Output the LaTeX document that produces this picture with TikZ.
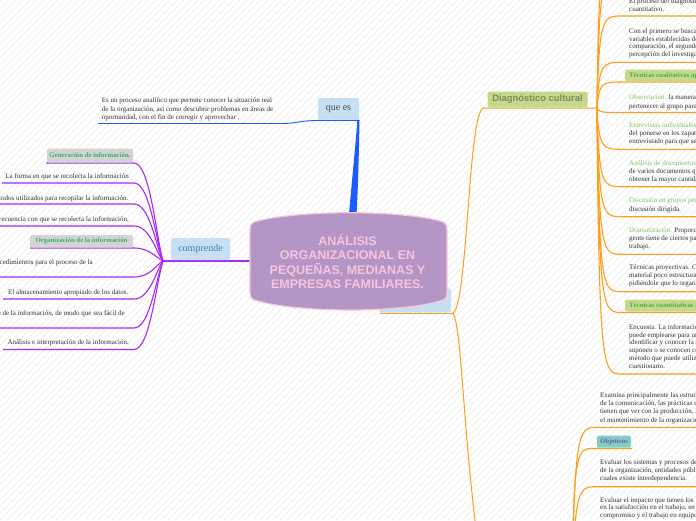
\documentclass[tikz,border=0pt]{standalone}
\usepackage{fontspec}
\setmainfont{Liberation Serif}
\newfontfamily\sansfam{Liberation Sans}
\usetikzlibrary{calc}
\definecolor{txt}{HTML}{333333}
\definecolor{orng}{HTML}{FF9E1B}
\definecolor{purp}{HTML}{A52AF5}
\definecolor{blu}{HTML}{1D5BFF}
\definecolor{lblue}{HTML}{C6DFF2}
\definecolor{cpurp}{HTML}{B395C6}
\definecolor{cpink}{HTML}{F7C5DA}
\definecolor{gbox}{HTML}{C5D98C}
\definecolor{gtxt}{HTML}{4DB04A}
\definecolor{lgtxt}{HTML}{82C35E}
\definecolor{greyb}{HTML}{D4D4D4}
\definecolor{ggreen}{HTML}{3CAD6E}
\definecolor{tealb}{HTML}{80CFC3}
\definecolor{opurp}{HTML}{7B55A8}
\definecolor{stripe}{HTML}{EEEEEE}
\definecolor{dctxt}{HTML}{7E8C55}
\definecolor{comptxt}{HTML}{3D7EC0}
\newcommand\G[1]{\textcolor{lgtxt}{#1}}
\tikzset{
  body/.style={font=\fontsize{7}{8}\selectfont, text=txt, inner sep=0pt},
  lft/.style={body, anchor=base east},
  rgt/.style={body, anchor=base west},
  oline/.style={draw=orng, line width=1.1pt},
  pline/.style={draw=purp, line width=1.1pt},
  bline/.style={draw=blu, line width=0.9pt},
  greyboxst/.style={fill=greyb, rounded corners=1.5pt, inner sep=0pt, font=\fontsize{6.8}{8}\selectfont\bfseries, text=ggreen},
  greenboxst/.style={fill=gbox, rounded corners=1.5pt, inner xsep=4pt, inner ysep=0pt, minimum height=12pt, anchor=west, font=\fontsize{6.8}{8}\selectfont\bfseries, text=gtxt},
  tealboxst/.style={fill=tealb, rounded corners=1.5pt, inner sep=0pt, font=\fontsize{6.8}{8}\selectfont\bfseries, text=opurp},
  blueboxst/.style={fill=lblue, rounded corners=1.5pt, inner sep=0pt},
}
\newcommand\pbr[3]{\coordinate (#1) at (134,#2);
  \draw[pline] (jl) .. controls (156,{261+0.25*(#2-261)}) and (150,#2) .. (#1) -- (#3,#2);}
\newcommand\obr[2]{\coordinate (#1) at (622,#2);
  \draw[oline] (j1) .. controls (599,#2) and (603,#2) .. (#1) -- (700,#2);}
\newcommand\bbr[2]{\coordinate (#1) at (597,#2);
  \draw[oline] (j3) .. controls (574,#2) and (579,#2) .. (#1) -- (700,#2);}
\begin{document}
\begin{tikzpicture}[x=1pt,y=-1pt]
\path[use as bounding box] (0,0) rectangle (696,520);
\clip (0,0) rectangle (696,520);
\fill[white] (0,0) rectangle (696,520);
\foreach \i in {-525,-518,...,700} \draw[stripe, line width=0.7pt] (\i,520) -- ++(520,-520);

% ---------- que es ----------
\node[blueboxst, minimum width=41pt, minimum height=22pt, font=\fontsize{10}{12}\selectfont, text=black!70] (quees) at (338.5,109) {que es};
\coordinate (qbl) at (318,120.5);
\coordinate (qbr) at (359.5,120.5);
\coordinate (qtxt) at (98,123.5);
\draw[bline] (qtxt) -- (283,123.5) .. controls (296,123.5) and (300,120.5) .. (qbl) -- (qbr);
\fill[blu] (349,214) .. controls (352,180) and (356,140) .. (357.3,120.5) -- (qbr) .. controls (359,150) and (358,190) .. (356.5,214) -- cycle;
\node[rgt] (q1) at (101.7,102.7) {Es un proceso analítico que permite conocer la situación real};
\node[rgt] (q2) at (101.7,111) {de la organización, así como descubrir problemas en áreas de};
\node[rgt] (q3) at (101.7,119.3) {oportunidad, con el fin de corregir y aprovechar .};

% ---------- comprende (purple) ----------
\coordinate (jl) at (163,261);
\coordinate (cl) at (251,261);
\draw[pline] (jl) -- (cl);
\node[blueboxst, minimum width=59pt, minimum height=22pt, font=\fontsize{10}{12}\selectfont, text=comptxt] (comp) at (200.5,249) {comprende};
\pbr{e1}{163}{46}
\pbr{e2}{183}{2}
\pbr{e3}{204}{-5}
\pbr{e4}{226}{-5}
\pbr{e5}{248}{30}
\pbr{e6}{277}{-5}
\pbr{e7}{299}{3}
\pbr{e8}{328}{-5}
\pbr{e9}{349.5}{3}
\node[greyboxst, minimum width=86pt, minimum height=14pt] (gen) at (90,155.5) {Generación de información.};
\node[greyboxst, minimum width=103pt, minimum height=12.5pt] (org) at (81.5,241.3) {Organización de la información};
\node[lft] (l2) at (129,178) {La forma en que se recolecta la información};
\node[lft] (l3) at (128.5,200) {Métodos utilizados para recopilar la información.};
\node[lft] (l4) at (129,221.3) {Frecuencia con que se recolecta la información,};
\node[lft] (l6) at (93,264.3) {Establecimiento de los procedimientos para el proceso de la};
\node[lft] (l7) at (128.5,294.3) {El almacenamiento apropiado de los datos.};
\node[lft] (l8) at (125,315.3) {Ordenamiento de la información, de modo que sea fácil de};
\node[lft] (l9) at (129,344.3) {Análisis e interpretación de la información.};

% ---------- orange tree ----------
\coordinate (j0) at (453,313);
\coordinate (j1) at (597,108);
\coordinate (j3) at (572,600);
\coordinate (hb) at (380,313);
\coordinate (dl) at (484,108);
\coordinate (down) at (478,545);
\node[blueboxst, minimum width=72pt, minimum height=24pt] (hid) at (415,300.5) {};
\draw[oline, line width=1pt] (hb) -- (j0);
\draw[oline, line width=1pt] (j0) .. controls (468,305) and (468,108) .. (dl) -- (j1);
\draw[oline, line width=1pt] (j0) .. controls (462,330) and (462,420) .. (down);
\obr{r00}{-60}
\obr{r0}{-25}
\obr{r1}{16}
\obr{r2}{62.3}
\obr{r3}{82}
\obr{r4}{112.5}
\obr{r5}{149.3}
\obr{r6}{186.7}
\obr{r7}{216.7}
\obr{r8}{254.3}
\obr{r9}{291.7}
\obr{r10}{312.5}
\obr{r11}{374}
\node[fill=gbox, rounded corners=1.5pt, minimum width=100pt, minimum height=16pt, font=\sansfam\bfseries\fontsize{9.4}{11}\selectfont, text=dctxt, inner sep=0pt] (diag) at (537.5,99.5) {Diagnóstico cultural};

\node[rgt] at (629,3) {El proceso del diagnóstico cultural puede ser cualitativo o};
\node[rgt] at (629,11) {cuantitativo.};
\node[rgt] at (629,33) {Con el primero se busca medir y cuantificar las};
\node[rgt] at (629,41) {variables establecidas de antemano para su};
\node[rgt] at (629,48.7) {comparación, el segundo se basa en la};
\node[rgt] at (629,56.3) {percepción del investigador.};
\node[greenboxst] (tcual) at (625,75.5) {Técnicas cualitativas aplicadas};
\node[rgt] at (629,99.7) {\G{Observación.} la manera de conocer la cultura es};
\node[rgt] at (629,108) {pertenecer al grupo para observarlo.};
\node[rgt] at (629,127.7) {\G{Entrevistas individuales.} Se trata};
\node[rgt] at (629,135.3) {del ponerse en los zapatos del};
\node[rgt] at (629,143) {entrevistado para que se sienta cómodo.};
\node[rgt] at (629,165.3) {\G{Análisis de documentos.} Revisión};
\node[rgt] at (629,173.7) {de varios documentos que permitan};
\node[rgt] at (629,181.3) {obtener la mayor cantidad de datos.};
\node[rgt] at (629,202.7) {\G{Discusión en grupos pequeños.} Es una};
\node[rgt] at (629,211) {discusión dirigida.};
\node[rgt] at (629,232) {\G{Dramatización.} Proporciona la idea que la};
\node[rgt] at (629,240.3) {gente tiene de ciertos papeles en el};
\node[rgt] at (629,248.7) {trabajo.};
\node[rgt] at (629,269.3) {Técnicas proyectivas. Consiste en dar un};
\node[rgt] at (629,277.7) {material poco estructurado al entrevistado,};
\node[rgt] at (629,285.3) {pidiéndole que lo organice.};
\node[greenboxst] (tcuan) at (625,305.7) {Técnicas cuantitativas aplicadas};
\node[rgt] at (629,329.3) {Encuesta. La información obtenida};
\node[rgt] at (629,337) {puede emplearse para un diagnóstico,};
\node[rgt] at (629,344.7) {identificar y conocer la situación que se};
\node[rgt] at (629,352) {suponen o se conocen con anterioridad,};
\node[rgt] at (629,360.3) {método que puede utilizarse es el};
\node[rgt] at (629,368.7) {cuestionario.};

% bottom right bundle
\bbr{b1}{427.3}
\coordinate (b2) at (593,448.5);
\draw[oline] (j3) .. controls (573,448.5) and (577,448.5) .. (b2) -- (632,448.5);
\bbr{b3}{486.7}
\bbr{b4}{525}
\node[tealboxst, minimum width=34pt, minimum height=12pt] (obj) at (614,441.5) {Objetivos};
\node[rgt] at (600,397) {Examina principalmente las estructuras};
\node[rgt] at (600,405.3) {de la comunicación, las prácticas de};
\node[rgt] at (600,413.7) {tienen que ver con la producción, la};
\node[rgt] at (600,422) {el mantenimiento de la organización.};
\node[rgt] at (600,464.7) {Evaluar los sistemas y procesos de};
\node[rgt] at (600,472.7) {de la organización, entidades públicas};
\node[rgt] at (600,480.7) {cuales existe interdependencia.};
\node[rgt] at (600,502) {Evaluar el impacto que tienen los};
\node[rgt] at (600,509.7) {en la satisfacción en el trabajo, en el};
\node[rgt] at (600,517.7) {compromiso y el trabajo en equipo.};

% ---------- central node ----------
\draw[fill=cpurp, draw=cpink, line width=1.2pt]
 (258,221) .. controls (300,210) and (400,210) .. (440,221)
 .. controls (445,222) and (447,224) .. (447,230)
 -- (447,292)
 .. controls (447,298) and (445,300) .. (440,301)
 .. controls (400,313) and (300,313) .. (258,301)
 .. controls (252,300) and (250,298) .. (250,292)
 -- (250,230)
 .. controls (250,224) and (252,222) .. (258,221) -- cycle;
\node[align=center, inner sep=0pt, text=cpink, font=\sansfam\bfseries\fontsize{12.5}{14.5}\selectfont] (center) at (347.5,261.5) {ANÁLISIS\\ORGANIZACIONAL EN\\PEQUEÑAS, MEDIANAS Y\\EMPRESAS FAMILIARES.};
\end{tikzpicture}
\end{document}
